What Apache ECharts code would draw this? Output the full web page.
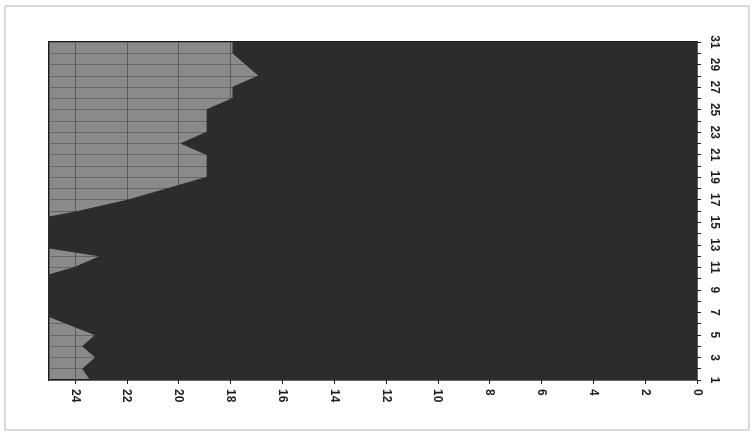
<!DOCTYPE html>
<html>
<head>
<meta charset="utf-8">
<script src="https://cdn.jsdelivr.net/npm/echarts@6/dist/echarts.min.js"></script>
<style>
html,body{margin:0;padding:0;background:#fff;}
#chart{width:754px;height:435px;}
</style>
</head>
<body>
<div id="chart"></div>
<script>
// Categories (days) and values
var days = ['1','2','3','4','5','6','7','8','9','10','11','12','13','14','15','16','17','18','19','20','21','22','23','24','25','26','27','28','29','30','31'];
var values = [23.4,23.7,23.2,23.7,23.2,24.3,25.4,25.8,25.8,25.5,24.0,23.0,25.8,26.0,26.0,23.8,21.9,20.4,18.9,18.9,18.9,19.9,18.9,18.9,18.9,17.9,17.9,16.9,17.4,17.9,17.9];
var valueMin = 0;
var valueMax = 25;
var valueStep = 2;

var chart = echarts.init(document.getElementById('chart'), null, {renderer: 'canvas'});
var labelFont = {color: '#1e1e1e', fontWeight: 'bold', fontSize: 12, fontFamily: 'Liberation Sans, Arial, sans-serif'};
chart.setOption({
  animation: false,
  backgroundColor: '#ffffff',
  grid: {
    left: 49, right: 57, top: 42, bottom: 55,
    show: true,
    backgroundColor: '#8a8a8a',
    borderColor: '#1a1a1a',
    borderWidth: 2
  },
  xAxis: {
    type: 'value',
    inverse: true,
    min: valueMin,
    max: valueMax,
    interval: valueStep,
    axisLine: {show: false},
    axisTick: {show: true, length: 4, lineStyle: {color: '#222'}},
    axisLabel: Object.assign({rotate: -90, margin: 9, showMaxLabel: false}, labelFont),
    splitLine: {show: true, lineStyle: {color: '#5c5c5c', width: 1}}
  },
  yAxis: {
    type: 'category',
    position: 'right',
    data: days,
    boundaryGap: false,
    axisLine: {show: false},
    axisTick: {show: true, length: 4, interval: 0, lineStyle: {color: '#222'}},
    axisLabel: Object.assign({rotate: -90, margin: 11, interval: 1}, labelFont),
    splitLine: {show: true, interval: 0, lineStyle: {color: '#666666', width: 1}}
  },
  graphic: [{
    type: 'rect',
    shape: {x: 5, y: 6, width: 744, height: 424},
    style: {fill: 'none', stroke: '#b5b5b5', lineWidth: 1},
    silent: true,
    z: -1
  }],
  series: [{
    type: 'line',
    data: values,
    symbol: 'none',
    clip: true,
    lineStyle: {color: '#2c2c2c', width: 1},
    areaStyle: {color: '#2c2c2c', opacity: 1}
  }]
});
</script>
</body>
</html>
